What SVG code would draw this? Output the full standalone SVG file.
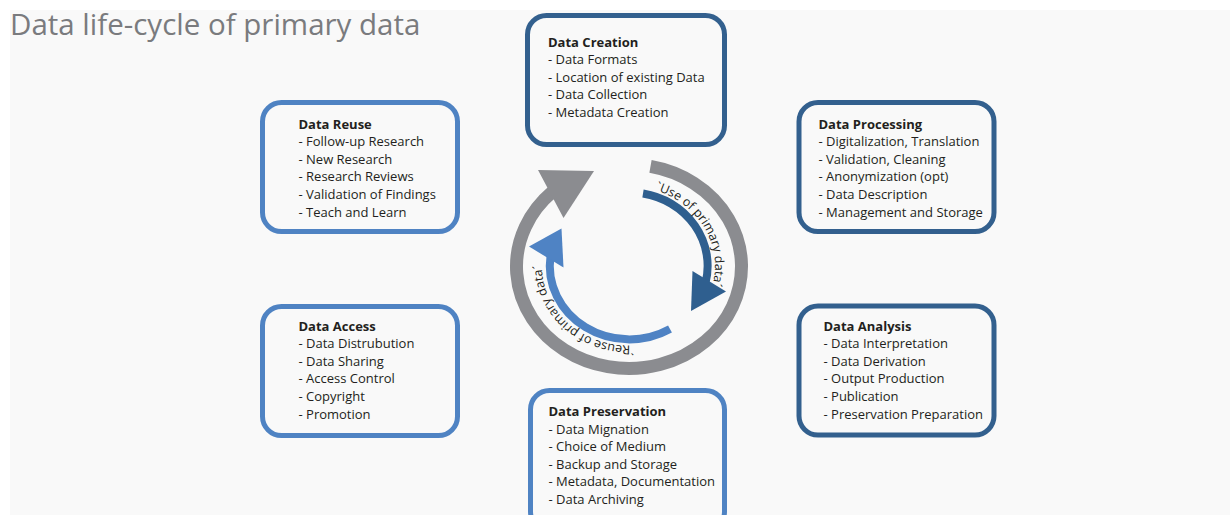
<svg xmlns="http://www.w3.org/2000/svg" width="1230" height="515" viewBox="0 0 1230 515">
  <style>
    .box-dark { fill: #f9f9f9; stroke: #33608e; stroke-width: 5; }
    .box-light { fill: #f9f9f9; stroke: #4f83c3; stroke-width: 5; }
    .label { font-family: "Open Sans", "Noto Sans", sans-serif; font-size: 13px; fill: #231f20; }
    .label .head { font-weight: bold; }
    .title { font-family: "Open Sans", "Noto Sans", sans-serif; font-size: 29.5px; fill: #7a7b7e; }
    .ring { fill: none; stroke: #8b8c90; stroke-width: 13; }
    .use { fill: none; stroke: #2f5f8f; stroke-width: 8; }
    .reuse { fill: none; stroke: #4f83c4; stroke-width: 8; }
    .arc-text { font-family: "Open Sans", "Noto Sans", sans-serif; font-size: 12.5px; fill: #231f20; }
  </style>
  <defs>
    <path id="use-path" d="M 655.6 190.4 A 86 80 0 0 1 694.9 317.9"/>
    <path id="reuse-path" d="M 633.6 345.4 A 87 79 0 0 1 547.2 239.5"/>
  </defs>

  <!-- page background -->
  <rect x="0" y="0" width="1230" height="515" fill="#ffffff"/>
  <rect x="10" y="10" width="1220" height="505" fill="#f9f9f9"/>

  <text class="title" x="10" y="35">Data life-cycle of primary data</text>

  <!-- central cycle arrows -->
  <g id="connectors">
    <path class="ring" d="M 650.5 166.4 A 112.5 102 0 1 1 552.3 191.9"/>
    <polygon points="538,170 594,171 563.5,218" fill="#8b8c90"/>
    <path class="use" d="M 643 193.5 A 78 73.5 0 0 1 705.5 283"/>
    <polygon points="692.5,271 726,291.5 691,311" fill="#2f5f8f"/>
    <path class="reuse" d="M 670 329 A 79.5 73.5 0 0 1 550.5 256"/>
    <polygon points="561.5,228.5 529,246.5 563.5,267.5" fill="#4f83c4"/>
    <text class="arc-text"><textPath href="#use-path">`Use of primary data´</textPath></text>
    <text class="arc-text"><textPath href="#reuse-path">`Reuse of primary data´</textPath></text>
  </g>

  <g id="data-creation">
    <rect class="box-dark" x="527.5" y="15.5" width="197" height="129" rx="19"/>
    <text class="label" x="548" y="46.5">
      <tspan class="head" x="548">Data Creation</tspan>
      <tspan x="548" dy="17.5">- Data Formats</tspan>
      <tspan x="548" dy="17.5">- Location of existing Data</tspan>
      <tspan x="548" dy="17.5">- Data Collection</tspan>
      <tspan x="548" dy="17.5">- Metadata Creation</tspan>
    </text>
  </g>

  <g id="data-reuse">
    <rect class="box-light" x="262.5" y="102.5" width="195" height="129" rx="19"/>
    <text class="label" x="298.5" y="128.5">
      <tspan class="head" x="298.5">Data Reuse</tspan>
      <tspan x="298.5" dy="17.6">- Follow-up Research</tspan>
      <tspan x="298.5" dy="17.6">- New Research</tspan>
      <tspan x="298.5" dy="17.6">- Research Reviews</tspan>
      <tspan x="298.5" dy="17.6">- Validation of Findings</tspan>
      <tspan x="298.5" dy="17.6">- Teach and Learn</tspan>
    </text>
  </g>

  <g id="data-processing">
    <rect class="box-dark" x="799" y="102.5" width="195" height="129" rx="19"/>
    <text class="label" x="818.5" y="128.5">
      <tspan class="head" x="818.5">Data Processing</tspan>
      <tspan x="818.5" dy="17.6">- Digitalization, Translation</tspan>
      <tspan x="818.5" dy="17.6">- Validation, Cleaning</tspan>
      <tspan x="818.5" dy="17.6">- Anonymization (opt)</tspan>
      <tspan x="818.5" dy="17.6">- Data Description</tspan>
      <tspan x="818.5" dy="17.6">- Management and Storage</tspan>
    </text>
  </g>

  <g id="data-access">
    <rect class="box-light" x="262.5" y="306.5" width="195" height="129" rx="19"/>
    <text class="label" x="298.5" y="330.5">
      <tspan class="head" x="298.5">Data Access</tspan>
      <tspan x="298.5" dy="17.6">- Data Distrubution</tspan>
      <tspan x="298.5" dy="17.6">- Data Sharing</tspan>
      <tspan x="298.5" dy="17.6">- Access Control</tspan>
      <tspan x="298.5" dy="17.6">- Copyright</tspan>
      <tspan x="298.5" dy="17.6">- Promotion</tspan>
    </text>
  </g>

  <g id="data-analysis">
    <rect class="box-dark" x="799" y="306" width="195" height="129" rx="19"/>
    <text class="label" x="823.5" y="330.5">
      <tspan class="head" x="823.5">Data Analysis</tspan>
      <tspan x="823.5" dy="17.6">- Data Interpretation</tspan>
      <tspan x="823.5" dy="17.6">- Data Derivation</tspan>
      <tspan x="823.5" dy="17.6">- Output Production</tspan>
      <tspan x="823.5" dy="17.6">- Publication</tspan>
      <tspan x="823.5" dy="17.6">- Preservation Preparation</tspan>
    </text>
  </g>

  <g id="data-preservation">
    <rect class="box-light" x="530.5" y="390.5" width="194" height="140" rx="19"/>
    <text class="label" x="548.5" y="416">
      <tspan class="head" x="548.5">Data Preservation</tspan>
      <tspan x="548.5" dy="17.6">- Data Mignation</tspan>
      <tspan x="548.5" dy="17.6">- Choice of Medium</tspan>
      <tspan x="548.5" dy="17.6">- Backup and Storage</tspan>
      <tspan x="548.5" dy="17.6">- Metadata, Documentation</tspan>
      <tspan x="548.5" dy="17.6">- Data Archiving</tspan>
    </text>
  </g>
</svg>
